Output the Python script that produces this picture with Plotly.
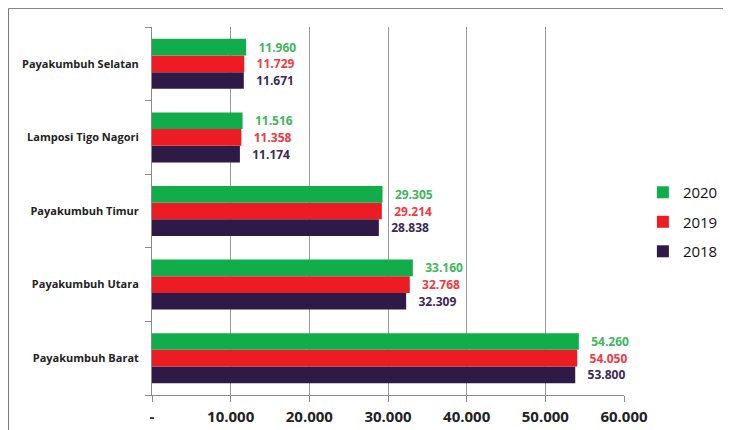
import plotly.graph_objects as go

# kecamatan, listed bottom-to-top as drawn
districts = [
    "Payakumbuh Barat",
    "Payakumbuh Utara",
    "Payakumbuh Timur",
    "Lamposi Tigo Nagori",
    "Payakumbuh Selatan",
]
years = ["2018", "2019", "2020"]
pop_2018 = [53800, 32309, 28838, 11174, 11671]
pop_2019 = [54050, 32768, 29214, 11358, 11729]
pop_2020 = [54260, 33160, 29305, 11516, 11960]

tick_vals = [0, 10000, 20000, 30000, 40000, 50000, 60000]
tick_text = ["-", "10.000", "20.000", "30.000", "40.000", "50.000", "60.000"]

bar_colors = {"2018": "#2E1A47", "2019": "#ED1C24", "2020": "#12AD4B"}
label_colors = {"2018": "#3A2A55", "2019": "#EE3A42", "2020": "#3DB65C"}
legend_rank = {"2020": 1, "2019": 2, "2018": 3}
series = {"2018": pop_2018, "2019": pop_2019, "2020": pop_2020}

FONT = "Open Sans"


def fmt(v):
    return f"{v:,}".replace(",", ".")


fig = go.Figure()
for yr in years:
    vals = series[yr]
    fig.add_trace(go.Bar(
        x=vals, y=districts, orientation="h", name=yr,
        legendgroup=yr, legendrank=legend_rank[yr],
        marker=dict(color=bar_colors[yr], line=dict(width=0)),
        text=["\u00a0\u00a0\u00a0" + fmt(v) for v in vals],
        textposition="outside", constraintext="none", cliponaxis=False,
        textfont=dict(family=FONT, size=12, color=label_colors[yr], weight="bold"),
        hoverinfo="skip",
    ))

# the page body adds 8px around the figure, so the figure is 8px smaller
fig.update_layout(
    width=723, height=422,
    margin=dict(l=144, r=107, t=19, b=35, autoexpand=False),
    paper_bgcolor="white", plot_bgcolor="white",
    barmode="group", bargap=0.32, bargroupgap=0,
    font=dict(family=FONT, color="#222222"),
    legend=dict(
        x=1.04, y=0.47, xanchor="left", yanchor="middle",
        traceorder="grouped", tracegroupgap=7, itemwidth=30,
        font=dict(family=FONT, size=15, color="#111111"),
        bgcolor="rgba(0,0,0,0)",
    ),
    xaxis=dict(
        range=[0, 60000], tickvals=tick_vals, ticktext=tick_text,
        showgrid=True, gridcolor="#9a9a9a", gridwidth=1,
        showline=True, linecolor="#8a8a8a", linewidth=1,
        ticks="outside", ticklen=6, tickcolor="#8a8a8a",
        ticklabelstandoff=2, automargin=False,
        tickfont=dict(family=FONT, size=15, color="#222222", weight="bold"),
        zeroline=False, fixedrange=True,
    ),
    yaxis=dict(
        showline=True, linecolor="#8a8a8a", linewidth=1,
        ticks="outside", ticklen=6, tickcolor="#8a8a8a",
        tickson="boundaries", ticklabelstandoff=10, automargin=False,
        tickfont=dict(family=FONT, size=11, color="#222222", weight="bold"),
        showgrid=False, fixedrange=True,
    ),
    shapes=[dict(
        type="path", xref="paper", yref="paper",
        path="M -0.304,-0.2 L -0.304,1.0505 L 1.4,1.0505",
        line=dict(color="#7a7a7a", width=1),
    )],
)

fig.write_html("out.html")
